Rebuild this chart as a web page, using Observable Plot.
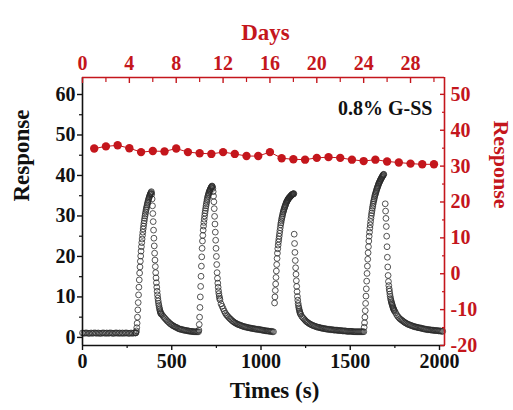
<!DOCTYPE html>
<html><head><meta charset="utf-8">
<script src="https://cdn.jsdelivr.net/npm/d3@7"></script>
<script src="https://cdn.jsdelivr.net/npm/@observablehq/plot@0.6"></script>
<style>body{margin:0;background:#fff}</style>
</head><body><div id="chart"></div>
<script>
// ---- scales / tick labels ----
const timeDomain = [0, 2028];
const leftDomain = [-2, 64.2];
const rightDomain = [-20, 54.7];
const dayDomain = [0, 30.9];
const timeTicks = [0, 500, 1000, 1500, 2000];
const timeMinor = [250, 750, 1250, 1750];
const leftTicks = [0, 10, 20, 30, 40, 50, 60];
const leftMinor = [5, 15, 25, 35, 45, 55];
const rightTicks = [-20, -10, 0, 10, 20, 30, 40, 50];
const rightMinor = [-15, -5, 5, 15, 25, 35, 45];
const dayTicks = [0, 4, 8, 12, 16, 20, 24, 28];
const dayMinor = [2, 6, 10, 14, 18, 22, 26, 30];

// ---- stability series (red, right axis vs days) ----
const days = [1,2,3,4,5,6,7,8,9,10,11,12,13,14,15,16,17,18,19,20,21,22,23,24,25,26,27,28,29,30];
const stability = [34.9,35.5,35.8,35.0,33.9,34.2,34.1,34.9,33.9,33.6,33.4,33.9,33.4,32.8,32.8,33.9,32.2,31.9,31.8,32.3,32.5,32.3,31.8,31.4,31.8,31.3,31.0,30.7,30.5,30.5];

// ---- transient response (black open circles, left axis vs time) ----
const base0 = [1.1,1.0,1.1,1.1,1.0,1.0,1.1,1.0,1.1,1.1,1.0,1.1,1.0,1.0,1.1,1.1,1.0,1.1,1.0,1.1,1.1,1.0,1.0,1.1,1.1,1.0,1.1,1.0,1.1,1.0,1.1,1.1,1.0,1.0,1.1,1.0,1.1,1.1];
const rise1 = [1.1,1.2,1.6,2.4,3.5,5.0,6.8,8.6,10.5,12.4,14.2,15.9,17.4,18.8,20.1,21.3,22.4,23.4,24.3,25.2,26.0,26.8,27.5,28.2,28.8,29.4,30.0,30.5,31.0,31.5,31.9,32.3,32.7,33.1,33.4,33.8,34.1,34.4,34.7,34.9,35.2,35.4,35.6,35.8,36.0];
const fall1 = [35.4,34.2,32.5,30.6,28.6,26.5,24.5,22.6,20.8,19.1,17.5,16.0,14.7,13.5,12.4,11.4,10.5,9.7,9.0,8.4,7.9,7.4,7.0,6.6,6.3,6.0,5.8];
const tail1 = [5.6,5.2,4.9,4.6,4.3,4.0,3.8,3.5,3.3,3.1,2.9,2.8,2.6,2.5,2.4,2.2,2.1,2.0,2.0,1.9,1.8,1.8,1.7,1.7,1.6,1.6,1.5,1.5,1.5,1.4,1.4,1.4,1.4,1.4];
const rise2 = [1.4,1.8,3.2,5.0,7.4,10.0,12.6,15.1,17.6,19.9,22.0,23.8,25.2,26.5,27.5,28.4,29.2,30.0,30.7,31.3,31.9,32.5,33.0,33.5,34.0,34.4,34.8,35.1,35.4,35.7,36.0,36.2,36.4,36.6,36.8,37.0,37.1,37.3,37.4];
const fall2 = [37.2,36.8,36.0,34.9,33.5,31.8,29.9,28.0,26.0,24.0,22.0,20.0,18.0,16.0,14.6,13.4,12.4,11.5,10.8,10.2,9.7,9.3];
const tail2 = [8.3,7.7,7.1,6.5,6.0,5.6,5.3,5.0,4.7,4.5,4.2,4.0,3.8,3.6,3.5,3.3,3.2,3.1,3.0,2.9,2.8,2.7,2.6,2.6,2.5,2.4,2.4,2.3,2.3,2.2,2.2,2.1,2.1,2.0,2.0,2.0,1.9,1.9,1.8,1.8,1.7,1.7,1.6,1.6,1.6,1.5,1.5,1.5,1.4,1.4];
const rise3 = [8.5,10.0,11.6,13.2,14.8,16.4,18.0,19.5,20.8,21.9,22.8,23.6,24.3,25.0,25.7,26.4,27.1,27.8,28.3,28.8,29.3,29.7,30.1,30.5,30.9,31.2,31.5,31.8,32.1,32.3,32.6,32.8,33.1,33.3,33.5,33.7,33.8,34.0,34.1,34.3,34.4,34.5,34.6,34.7,34.8,34.9,35.0,35.1,35.2,35.3,35.3,35.4,35.4,35.5,35.5];
const fall3 = [25.5,23.2,21.0,19.0,17.2,15.6,14.0,12.6,11.3,10.1,9.2,8.4,7.8,7.3,6.9,6.5,6.2,5.9,5.7];
const tail3 = [5.2,4.9,4.6,4.3,4.0,3.8,3.6,3.4,3.3,3.1,3.0,2.9,2.8,2.7,2.6,2.5,2.5,2.4,2.3,2.3,2.2,2.2,2.1,2.1,2.0,2.0,2.0,1.9,1.9,1.9,1.8,1.8,1.8,1.8,1.7,1.7,1.7,1.7,1.6,1.6,1.6,1.6,1.5,1.5,1.5,1.5,1.5,1.5,1.4,1.4,1.4,1.4,1.4,1.4,1.4,1.4,1.4,1.4,1.4];
const rise4 = [2.5,3.6,5.0,6.6,8.4,10.2,12.0,13.9,15.8,17.6,19.3,20.9,22.4,23.8,25.0,26.0,27.0,27.8,28.6,29.4,30.1,30.7,31.3,31.9,32.4,32.9,33.4,33.8,34.2,34.6,35.0,35.3,35.6,35.9,36.2,36.5,36.8,37.0,37.3,37.5,37.8,38.0,38.2,38.4,38.6,38.8,39.0,39.1,39.3,39.5,39.6,39.8,39.9,40.1,40.2,40.3];
const fall4 = [33.0,31.2,29.4,27.4,25.0,22.4,19.8,17.4,15.3,13.8,12.8,12.0,11.4,10.7,10.1,9.6,9.2,8.8,8.5,8.2,7.9,7.6,7.3,7.1,6.9,6.7,6.5];
const tail4 = [6.1,5.6,5.2,4.9,4.6,4.4,4.2,4.0,3.8,3.6,3.5,3.3,3.2,3.1,3.0,2.9,2.8,2.7,2.6,2.6,2.5,2.4,2.4,2.3,2.3,2.2,2.1,2.1,2.0,2.0,1.9,1.9,1.9,1.8,1.8,1.8,1.7,1.7,1.7,1.7,1.6,1.6,1.6,1.5,1.5];

// sampling: start time (s) and step (s) of each recorded segment
const segStart = [0, 298, 388, 446, 650, 728, 776, 1076, 1186, 1228, 1578, 1696, 1754];
const segStep  = [8, 2, 2, 6, 2, 2, 6, 2, 2, 6, 2, 2, 6];
const segValues = [base0, rise1, fall1, tail1, rise2, fall2, tail2, rise3, fall3, tail3, rise4, fall4, tail4];

const transient = segValues.flatMap((vals, s) => vals.map((v, i) => ({t: segStart[s] + i * segStep[s], v})));

// secondary axes mapped into the primary scales
const dayToTime = d3.scaleLinear().domain(dayDomain).range(timeDomain);
const rightToLeft = d3.scaleLinear().domain(rightDomain).range(leftDomain);
const stabilityData = days.map((d, i) => ({t: dayToTime(d), v: rightToLeft(stability[i])}));

const RED = "#c4161c";
const BLACK = "#111";
const FONT = "Liberation Serif";
const tickFont = {fontSize: 20, fontWeight: "bold"};
const blank = () => "";

const chart = Plot.plot({
  width: 513,
  height: 410,
  marginTop: 77,
  marginRight: 69,
  marginBottom: 65,
  marginLeft: 82,
  style: {fontFamily: FONT, background: "white"},
  x: {domain: timeDomain},
  y: {domain: leftDomain},
  marks: [
    // black transient response
    Plot.dot(transient, {x: "t", y: "v", r: 2.9, stroke: "#2a2a2a", strokeWidth: 0.8, fill: "none"}),
    // red stability series
    Plot.line(stabilityData, {x: "t", y: "v", stroke: RED, strokeWidth: 1}),
    Plot.dot(stabilityData, {x: "t", y: "v", r: 4.2, fill: RED, stroke: "none"}),
    // frame
    Plot.ruleX([timeDomain[0]], {stroke: BLACK, strokeWidth: 1.6}),
    Plot.ruleY([leftDomain[0]], {stroke: BLACK, strokeWidth: 1.6}),
    Plot.ruleY([leftDomain[1]], {stroke: RED, strokeWidth: 1.6}),
    Plot.ruleX([timeDomain[1]], {stroke: RED, strokeWidth: 1.6}),
    // left axis
    Plot.axisY({anchor: "left", ticks: leftTicks, tickSize: 5, tickPadding: 2, label: null, stroke: BLACK, fill: BLACK, strokeWidth: 1.4, tickFormat: d => String(d), ...tickFont}),
    Plot.axisY({anchor: "left", ticks: leftMinor, tickSize: 3, label: null, stroke: BLACK, strokeWidth: 1.2, tickFormat: blank}),
    // bottom axis
    Plot.axisX({anchor: "bottom", ticks: timeTicks, tickSize: 5, tickPadding: 3, label: null, stroke: BLACK, fill: BLACK, strokeWidth: 1.4, tickFormat: d => String(d), ...tickFont}),
    Plot.axisX({anchor: "bottom", ticks: timeMinor, tickSize: 3, label: null, stroke: BLACK, strokeWidth: 1.2, tickFormat: blank}),
    // top axis (days)
    Plot.axisX({anchor: "top", ticks: dayTicks.map(dayToTime), tickSize: 0, tickPadding: 8, label: null, fill: RED, tickFormat: d => String(Math.round(dayToTime.invert(d))), ...tickFont}),
    Plot.axisX({anchor: "top", ticks: dayTicks.map(dayToTime), tickSize: 5, dy: 5, label: null, stroke: RED, strokeWidth: 1.4, tickFormat: blank}),
    Plot.axisX({anchor: "top", ticks: dayMinor.map(dayToTime), tickSize: 4, dy: 4, label: null, stroke: RED, strokeWidth: 1.2, tickFormat: blank}),
    // right axis
    Plot.axisY({anchor: "right", ticks: rightTicks.map(rightToLeft), tickSize: 0, tickPadding: 6, label: null, fill: RED, tickFormat: d => String(Math.round(rightToLeft.invert(d))), ...tickFont}),
    Plot.axisY({anchor: "right", ticks: rightTicks.map(rightToLeft), tickSize: 5, dx: -5, label: null, stroke: RED, strokeWidth: 1.4, tickFormat: blank}),
    Plot.axisY({anchor: "right", ticks: rightMinor.map(rightToLeft), tickSize: 3, dx: -3, label: null, stroke: RED, strokeWidth: 1.2, tickFormat: blank}),
    // titles
    Plot.text(["Days"], {frameAnchor: "top", dx: 2, dy: -54, fill: RED, fontSize: 23, fontWeight: "bold"}),
    Plot.text(["Times (s)"], {frameAnchor: "bottom", dx: 11, dy: 52, fill: BLACK, fontSize: 23, fontWeight: "bold"}),
    Plot.text(["Response"], {frameAnchor: "left", dx: -61, dy: -10, rotate: -90, fill: BLACK, fontSize: 23, fontWeight: "bold"}),
    Plot.text(["Response"], {frameAnchor: "right", dx: 57, dy: -3, rotate: 90, fill: RED, fontSize: 22, fontWeight: "bold"}),
    Plot.text(["0.8% G-SS"], {frameAnchor: "top-right", textAnchor: "end", dx: -12, dy: 23, fill: BLACK, fontSize: 20, fontWeight: "bold"})
  ]
});
document.getElementById("chart").appendChild(chart);
</script></body></html>
